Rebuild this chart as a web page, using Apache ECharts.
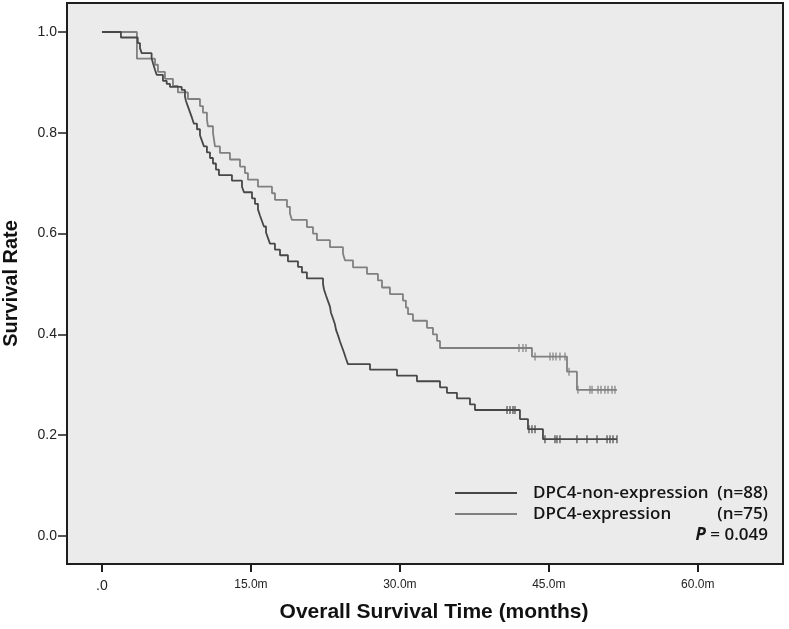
<!DOCTYPE html>
<html>
<head>
<meta charset="utf-8">
<script src="https://cdn.jsdelivr.net/npm/echarts@6/dist/echarts.min.js"></script>
<style>
html,body{margin:0;padding:0;background:#fff;}
#chart{width:789px;height:629px;}
</style>
</head>
<body>
<div id="chart"></div>
<script>
// ---- Data (time in months, survival rate) ----
const darkName = 'DPC4-non-expression';
const lightName = 'DPC4-expression';

const darkT = [0,1.91,3.6,3.83,4.0,5.0,5.14,5.34,5.51,6.14,6.52,6.85,8.03,8.36,8.46,8.66,8.86,9.06,9.26,9.57,9.87,10.07,10.27,10.57,10.88,11.18,11.48,11.78,13.09,14.10,14.30,15.11,15.41,15.71,15.91,16.11,16.31,16.52,16.72,16.92,17.42,17.93,18.73,19.74,20.14,20.64,22.26,22.36,22.56,22.76,22.96,23.06,23.26,23.46,23.57,23.77,23.97,24.17,24.37,24.57,24.77,26.99,29.71,31.72,34.04,34.74,35.75,37.06,37.56,42.09,42.90,44.41,51.86];
const darkS = [1.0,0.989,0.978,0.968,0.958,0.948,0.938,0.925,0.915,0.903,0.897,0.891,0.885,0.872,0.863,0.852,0.841,0.830,0.818,0.807,0.795,0.784,0.773,0.761,0.750,0.739,0.727,0.716,0.705,0.693,0.682,0.670,0.659,0.648,0.636,0.625,0.614,0.602,0.591,0.580,0.568,0.557,0.545,0.534,0.523,0.511,0.500,0.489,0.477,0.466,0.455,0.443,0.432,0.420,0.409,0.398,0.386,0.375,0.364,0.352,0.341,0.330,0.318,0.307,0.295,0.284,0.273,0.261,0.250,0.232,0.212,0.192,0.192];

const lightT = [0,3.52,5.34,5.64,6.34,7.15,7.65,8.66,9.87,10.17,10.57,10.67,11.18,11.28,11.38,11.88,12.89,13.90,14.40,14.70,15.71,17.12,17.42,18.63,18.93,19.13,20.64,21.25,21.65,22.96,24.27,24.47,25.28,26.69,27.79,28.20,29.00,30.31,30.61,30.82,31.32,32.73,33.33,33.74,34.04,43.30,46.83,47.83,51.86];
const lightS = [1.0,0.947,0.935,0.921,0.907,0.893,0.880,0.867,0.853,0.840,0.827,0.813,0.800,0.787,0.773,0.760,0.747,0.733,0.720,0.707,0.693,0.680,0.667,0.653,0.640,0.627,0.613,0.600,0.587,0.573,0.560,0.547,0.533,0.520,0.507,0.493,0.480,0.467,0.453,0.440,0.427,0.413,0.400,0.387,0.373,0.356,0.326,0.290,0.290];

// censored observations
const darkCensorT = [40.79,41.09,41.39,41.59,43.00,43.30,43.61,44.61,45.62,45.82,46.12,47.83,48.84,49.85,50.86,51.16,51.46,51.86];
const darkCensorS = [0.250,0.250,0.250,0.250,0.212,0.212,0.212,0.192,0.192,0.192,0.192,0.192,0.192,0.192,0.192,0.192,0.192,0.192];
const lightCensorT = [41.99,42.40,42.70,43.61,45.12,45.42,45.72,46.12,46.63,47.03,47.93,49.14,49.35,49.95,50.25,50.65,50.96,51.36,51.66];
const lightCensorS = [0.373,0.373,0.373,0.356,0.356,0.356,0.356,0.356,0.356,0.326,0.290,0.290,0.290,0.290,0.290,0.290,0.290,0.290,0.290];

const xTicks = [0,15,30,45,60];
const yTicks = [0,0.2,0.4,0.6,0.8,1.0];
const nDark = 88, nLight = 75, pValue = '0.049';

// ---- Chart ----
const darkColor = '#474747', lightColor = '#808080';
const pairs = (a,b) => a.map((t,i)=>[t,b[i]]);
const legendFont = {fontFamily:'Open Sans',fontWeight:600,fontSize:17,color:'#151515'};

const chart = echarts.init(document.getElementById('chart'), null, {renderer:'canvas'});
chart.setOption({
  animation:false,
  backgroundColor:'#ffffff',
  grid:{left:67,right:6,top:3,bottom:65,containLabel:false,outerBoundsMode:'none',
    show:true,backgroundColor:'#ebebeb',borderColor:'#1e1e1e',borderWidth:2},
  xAxis:{
    type:'value', min:-3.52, max:68.58,
    name:'Overall Survival Time (months)', nameLocation:'middle', nameGap:38,
    nameTextStyle:{fontFamily:'Liberation Sans',fontWeight:'bold',fontSize:21,color:'#111',padding:[0,0,0,18]},
    axisLine:{show:true,onZero:false,lineStyle:{color:'#1e1e1e',width:2}},
    axisTick:{show:true,length:8,inside:false,lineStyle:{color:'#1e1e1e',width:2},customValues:xTicks},
    axisLabel:{customValues:xTicks,margin:15,fontFamily:'Liberation Sans',fontSize:12,color:'#222',
      formatter:v=> v===0 ? '{z|.0}' : v.toFixed(1)+'m',
      rich:{z:{fontSize:14,fontFamily:'Liberation Sans',color:'#222'}}},
    splitLine:{show:false}
  },
  yAxis:{
    type:'value', min:-0.0556, max:1.0575,
    name:'Survival Rate', nameLocation:'middle', nameGap:46, nameRotate:90,
    nameTextStyle:{fontFamily:'Liberation Sans',fontWeight:'bold',fontSize:20,color:'#111'},
    axisLine:{show:true,onZero:false,lineStyle:{color:'#1e1e1e',width:2}},
    axisTick:{show:true,length:9,lineStyle:{color:'#1e1e1e',width:1.5},customValues:yTicks},
    axisLabel:{customValues:yTicks,margin:10,fontFamily:'Liberation Sans',fontSize:14,color:'#222',
      formatter:v=>v.toFixed(1)},
    splitLine:{show:false}
  },
  legend:{
    data:[darkName, lightName], orient:'vertical', left:450, top:478,
    icon:'rect', itemWidth:62, itemHeight:2, itemGap:1,
    textStyle:Object.assign({lineHeight:20,rich:{
      a:Object.assign({width:180,padding:[0,0,0,11]},legendFont),
      b:Object.assign({width:55,align:'right'},legendFont)
    }},legendFont),
    formatter:name=> name===darkName ? '{a|'+darkName+'}{b|(n='+nDark+')}' : '{a|'+lightName+'}{b|(n='+nLight+')}'
  },
  graphic:[{
    type:'text', right:21, top:527,
    style:{text:'{i|P}{r| = '+pValue+'}',
      rich:{i:{fontStyle:'italic',fontWeight:'bold',fontFamily:'Open Sans',fontSize:17,fill:'#151515'},
            r:{fontWeight:600,fontFamily:'Open Sans',fontSize:17,fill:'#151515'}}}
  }],
  series:[
    {name:darkName,type:'line',step:'end',symbol:'none',data:pairs(darkT,darkS),
      lineStyle:{color:darkColor,width:1.8},itemStyle:{color:darkColor},z:3},
    {name:lightName,type:'line',step:'end',symbol:'none',data:pairs(lightT,lightS),
      lineStyle:{color:lightColor,width:1.8},itemStyle:{color:lightColor},z:2},
    {name:darkName+' censored',type:'scatter',symbol:'rect',symbolSize:[1.5,8],data:pairs(darkCensorT,darkCensorS),
      itemStyle:{color:darkColor},z:4},
    {name:lightName+' censored',type:'scatter',symbol:'rect',symbolSize:[1.5,8],data:pairs(lightCensorT,lightCensorS),
      itemStyle:{color:lightColor},z:4}
  ]
});
</script>
</body>
</html>
